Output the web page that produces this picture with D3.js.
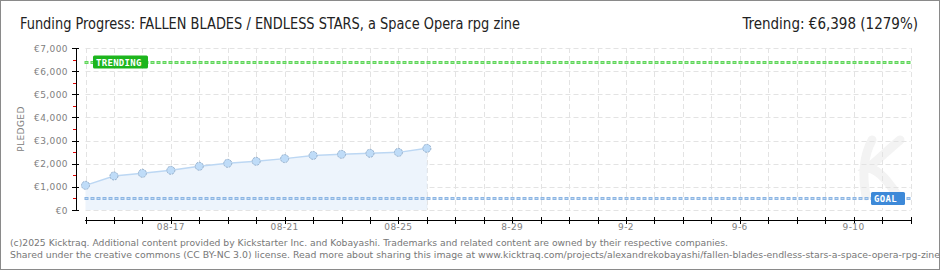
<!DOCTYPE html>
<html>
<head>
<meta charset="utf-8">
<script src="https://cdn.jsdelivr.net/npm/d3@7"></script>
<style>
  body { margin: 0; background: #fff; }
  svg { display: block; }
  .tick-label { font-family: "DejaVu Sans", sans-serif; font-size: 9px; fill: #808080; letter-spacing: 0.4px; }
</style>
</head>
<body>
<svg id="chart" width="940" height="270"></svg>
<script>
// ---- data ----
var dates = ['2025-08-14', '2025-08-15', '2025-08-16', '2025-08-17', '2025-08-18', '2025-08-19',
             '2025-08-20', '2025-08-21', '2025-08-22', '2025-08-23', '2025-08-24', '2025-08-25', '2025-08-26'];
var pledged = [1065, 1470, 1585, 1715, 1890, 2015, 2105, 2220, 2360, 2405, 2450, 2490, 2665];
var goal = 500;
var trending = 6398;
var yTicks = [0, 1000, 2000, 3000, 4000, 5000, 6000, 7000];
var xLabelDates = ['2025-08-17', '2025-08-21', '2025-08-25', '2025-08-29', '2025-09-02', '2025-09-06', '2025-09-10'];
var xLabels = ['08-17', '08-21', '08-25', '8-29', '9-2', '9-6', '9-10'];

var parse = d3.timeParse('%Y-%m-%d');
var svg = d3.select('#chart');

var x = d3.scaleTime()
    .domain([parse('2025-08-14'), parse('2025-09-12')])
    .range([85.5, 910.5]);
var y = d3.scaleLinear()
    .domain([0, 7000])
    .range([210, 48]);

var days = d3.timeDay.range(parse('2025-08-14'), d3.timeDay.offset(parse('2025-09-12'), 1));
var data = dates.map(function(d, i) { return {date: parse(d), value: pledged[i]}; });

// outer frame
svg.append('rect')
    .attr('x', 0.5).attr('y', 0.5).attr('width', 939).attr('height', 269)
    .attr('fill', '#fff').attr('stroke', '#8a8a8a').attr('stroke-width', 1);

// title + trending text
svg.append('text')
    .attr('x', 20).attr('y', 29)
    .attr('font-family', '"Liberation Sans Narrow", "DejaVu Sans Condensed", sans-serif')
    .attr('font-size', '15px').attr('fill', '#222')
    .attr('textLength', 500).attr('lengthAdjust', 'spacingAndGlyphs')
    .text('Funding Progress: FALLEN BLADES / ENDLESS STARS, a Space Opera rpg zine');
svg.append('text')
    .attr('x', 918).attr('y', 29).attr('text-anchor', 'end')
    .attr('font-family', '"Liberation Sans Narrow", "DejaVu Sans Condensed", sans-serif')
    .attr('font-size', '15px').attr('fill', '#222')
    .text('Trending:  \u20ac6,398 (1279%)');

// faint watermark (drawn as a shape, not text)
svg.append('path')
    .attr('d', 'M866,196 C862,175 864,155 872,140 M900,140 C888,150 878,160 868,168 C880,170 888,182 898,196')
    .attr('fill', 'none').attr('stroke', '#f3f3f3').attr('stroke-width', 9).attr('stroke-linecap', 'round');

// grid
svg.append('g').selectAll('line').data(days).enter()
    .append('line')
    .attr('x1', function(d) { return Math.round(x(d)) + 0.5; })
    .attr('x2', function(d) { return Math.round(x(d)) + 0.5; })
    .attr('y1', y(7000)).attr('y2', y(0))
    .attr('stroke', '#e3e3e3').attr('stroke-dasharray', '5,3');
svg.append('g').selectAll('line').data(yTicks).enter()
    .append('line')
    .attr('x1', x.range()[0]).attr('x2', x.range()[1])
    .attr('y1', function(d) { return Math.round(y(d)) + 0.5; })
    .attr('y2', function(d) { return Math.round(y(d)) + 0.5; })
    .attr('stroke', '#e3e3e3').attr('stroke-dasharray', '5,3');

// area + line + points
var area = d3.area()
    .x(function(d) { return x(d.date); })
    .y0(y(0))
    .y1(function(d) { return y(d.value); });
svg.append('path').datum(data)
    .attr('d', area)
    .attr('fill', '#edf4fc');
svg.append('path').datum(data)
    .attr('d', d3.line().x(function(d) { return x(d.date); }).y(function(d) { return y(d.value); }))
    .attr('fill', 'none').attr('stroke', '#bcd7f3').attr('stroke-width', 1.5);
svg.append('line')
    .attr('x1', x(data[data.length - 1].date)).attr('x2', x(data[data.length - 1].date))
    .attr('y1', y(data[data.length - 1].value)).attr('y2', y(0))
    .attr('stroke', '#e4edf7').attr('stroke-dasharray', '4,3');

// goal + trending lines
function dottedLine(val, outer, inner) {
    var yy = Math.round(y(val)) + 0.5;
    svg.append('line')
        .attr('x1', x.range()[0] - 1).attr('x2', x.range()[1])
        .attr('y1', yy).attr('y2', yy)
        .attr('stroke', outer).attr('stroke-width', 3).attr('stroke-dasharray', '4,2');
    svg.append('line')
        .attr('x1', x.range()[0]).attr('x2', x.range()[1])
        .attr('y1', yy).attr('y2', yy)
        .attr('stroke', inner).attr('stroke-width', 1).attr('stroke-dasharray', '2,4');
}
dottedLine(trending, '#5fd65a', '#a8eca3');
dottedLine(goal, '#8cb5e3', '#c2daf3');

svg.append('g').selectAll('circle').data(data).enter()
    .append('circle')
    .attr('cx', function(d) { return x(d.date); })
    .attr('cy', function(d) { return y(d.value); })
    .attr('r', 4)
    .attr('fill', '#bfdcf8').attr('stroke', '#96afca').attr('stroke-width', 1)
    .attr('stroke-dasharray', '2,1');

// badges
function badge(label, cx, cy, w, fill) {
    svg.append('rect')
        .attr('x', cx).attr('y', cy - 6.5).attr('width', w).attr('height', 13)
        .attr('rx', 1.5).attr('fill', fill);
    svg.append('text')
        .attr('x', cx + 3).attr('y', cy + 4)
        .attr('font-family', '"DejaVu Sans Mono", monospace').attr('font-size', '9px')
        .attr('font-weight', 'bold').attr('fill', '#fff').attr('letter-spacing', '0.3px')
        .text(label);
}
badge('TRENDING', 93, y(trending), 55, '#1db51d');
badge('GOAL', 871, y(goal), 34, '#3d89d8');

// y axis
svg.append('line')
    .attr('x1', 76.5).attr('x2', 76.5).attr('y1', y(7000)).attr('y2', y(0))
    .attr('stroke', '#000');
var minor = d3.range(500, 7000, 1000);
svg.append('g').selectAll('line').data(minor).enter()
    .append('line')
    .attr('x1', 73).attr('x2', 76)
    .attr('y1', function(d) { return Math.round(y(d)) + 0.5; })
    .attr('y2', function(d) { return Math.round(y(d)) + 0.5; })
    .attr('stroke', '#e00000');
svg.append('g').selectAll('line').data(yTicks).enter()
    .append('line')
    .attr('x1', 72).attr('x2', 79)
    .attr('y1', function(d) { return Math.round(y(d)) + 0.5; })
    .attr('y2', function(d) { return Math.round(y(d)) + 0.5; })
    .attr('stroke', '#000');
svg.append('g').selectAll('text').data(yTicks).enter()
    .append('text')
    .attr('class', 'tick-label')
    .attr('x', 68).attr('y', function(d) { return y(d) + 3.5; })
    .attr('text-anchor', 'end')
    .text(function(d) { return '\u20ac' + d3.format(',')(d); });
svg.append('text')
    .attr('class', 'tick-label')
    .attr('transform', 'translate(24,' + y(3500) + ') rotate(-90)')
    .attr('text-anchor', 'middle').attr('letter-spacing', '1.5px')
    .text('PLEDGED');

// x axis
svg.append('line')
    .attr('x1', x.range()[0] - 0.5).attr('x2', x.range()[1] + 0.5).attr('y1', 220.5).attr('y2', 220.5)
    .attr('stroke', '#000');
svg.append('g').selectAll('line').data(days).enter()
    .append('line')
    .attr('x1', function(d) { return Math.round(x(d)) + 0.5; })
    .attr('x2', function(d) { return Math.round(x(d)) + 0.5; })
    .attr('y1', 217).attr('y2', 224)
    .attr('stroke', '#000');
svg.append('g').selectAll('text').data(xLabelDates).enter()
    .append('text')
    .attr('class', 'tick-label')
    .attr('x', function(d) { return x(parse(d)); })
    .attr('y', 230)
    .attr('text-anchor', 'middle')
    .text(function(d, i) { return xLabels[i]; });

// footer
svg.append('text')
    .attr('x', 10).attr('y', 246)
    .attr('font-family', 'Tahoma, "DejaVu Sans", sans-serif').attr('font-size', '9px').attr('fill', '#777')
    .attr('textLength', 718).attr('lengthAdjust', 'spacingAndGlyphs')
    .text('(c)2025 Kicktraq. Additional content provided by Kickstarter Inc. and Kobayashi. Trademarks and related content are owned by their respective companies.');
svg.append('text')
    .attr('x', 10).attr('y', 258)
    .attr('font-family', 'Tahoma, "DejaVu Sans", sans-serif').attr('font-size', '9px').attr('fill', '#777')
    .attr('textLength', 930).attr('lengthAdjust', 'spacingAndGlyphs')
    .text('Shared under the creative commons (CC BY-NC 3.0) license. Read more about sharing this image at www.kicktraq.com/projects/alexandrekobayashi/fallen-blades-endless-stars-a-space-opera-rpg-zine');
</script>
</body>
</html>
